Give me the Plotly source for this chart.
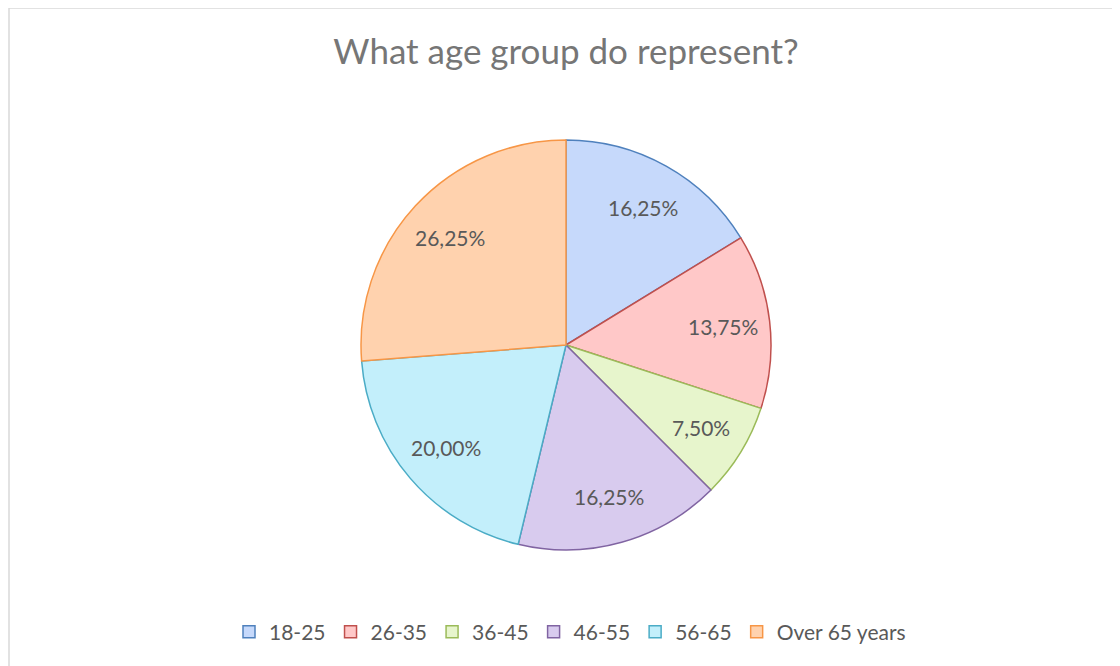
import numpy as np
import plotly.graph_objects as go

categories = ["18-25", "26-35", "36-45", "46-55", "56-65", "Over 65 years"]
values = [16.25, 13.75, 7.50, 16.25, 20.00, 26.25]
value_labels = ["16,25%", "13,75%", "7,50%", "16,25%", "20,00%", "26,25%"]
fill_colors = ["#C6D9FB", "#FFC8C8", "#E7F5CC", "#D8CBEE", "#C3EFFB", "#FFD2AE"]
line_colors = ["#4F81BD", "#C0504D", "#9BBB59", "#8064A2", "#4BACC6", "#F79646"]

# page body has an 8px margin; work in reference-pixel coordinates and shift
OFF = 8
W, H = 1120 - OFF, 666 - OFF
cx, cy, r = 566 - OFF, 345 - OFF, 205


def px_x(x):
    return x / W


def px_y(y):
    return 1 - y / H


fig = go.Figure(go.Pie(
    labels=categories,
    values=values,
    sort=False,
    direction="clockwise",
    rotation=0,
    textinfo="none",
    hoverinfo="label+percent",
    marker=dict(colors=fill_colors, line=dict(color=line_colors, width=1.5)),
    domain=dict(x=[px_x(cx - r), px_x(cx + r)], y=[px_y(cy + r), px_y(cy - r)]),
    showlegend=True,
))

# data labels placed along slice mid-angles
total = sum(values)
cum = np.cumsum([0] + values[:-1])
annotations = []
for v, c, lab in zip(values, cum, value_labels):
    ang = np.pi / 2 - 2 * np.pi * (c + v / 2) / total
    lx = cx + 0.77 * r * np.cos(ang)
    ly = cy - 0.77 * r * np.sin(ang)
    annotations.append(dict(x=px_x(lx), y=px_y(ly), xref="paper", yref="paper",
                            xanchor="center", yanchor="middle",
                            text=lab, showarrow=False,
                            font=dict(family="Lato, sans-serif", size=21, color="#595959")))

fig.update_layout(
    width=W, height=H,
    margin=dict(l=0, r=0, t=0, b=0),
    paper_bgcolor="white",
    title=dict(text="What age group do represent?", x=px_x(cx), xanchor="center",
               y=px_y(52 - OFF), yanchor="middle",
               font=dict(family="Lato, sans-serif", size=35, color="#767676")),
    legend=dict(orientation="h", x=px_x(570 - OFF), xanchor="center", y=px_y(632 - OFF), yanchor="middle",
                font=dict(family="Lato, sans-serif", size=21, color="#595959"),
                itemclick=False, itemwidth=30),
    annotations=annotations,
    shapes=[dict(type="rect", xref="paper", yref="paper", x0=px_x(9 - OFF), x1=1.05, y0=-0.05, y1=px_y(8 - OFF),
                 line=dict(color="#D9D9D9", width=1.5), fillcolor="rgba(0,0,0,0)")],
)

fig.write_html("out.html")
